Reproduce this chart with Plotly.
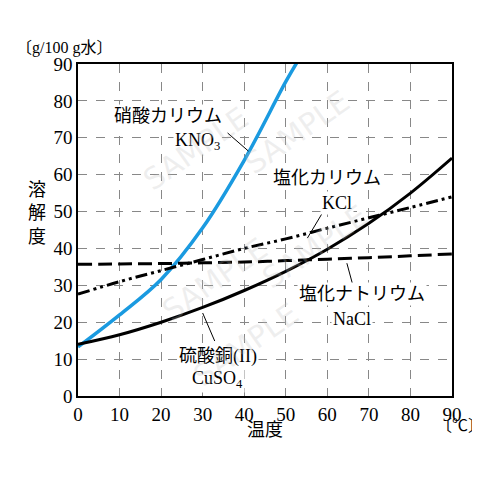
import plotly.graph_objects as go

temp = [0, 10, 20, 30, 40, 50, 60, 70, 80, 90]
kno3_t = [0, 10, 20, 30, 40, 50, 53]
kno3 = [13.3, 22.0, 31.6, 45.6, 63.9, 85.2, 91.0]
kcl = [27.6, 31.0, 34.0, 37.0, 40.0, 42.6, 45.5, 48.3, 51.1, 54.0]
nacl = [35.7, 35.8, 35.9, 36.1, 36.3, 36.7, 37.1, 37.5, 38.0, 38.5]
cuso4 = [14.0, 16.6, 20.0, 24.0, 28.6, 33.8, 39.8, 46.8, 55.0, 64.5]

FONT = "Liberation Serif, Noto Sans CJK JP"

fig = go.Figure()
fig.add_trace(go.Scatter(x=kno3_t, y=kno3, mode="lines", line=dict(color="#1a9ae0", width=3.5, shape="spline")))
fig.add_trace(go.Scatter(x=temp, y=kcl, mode="lines", line=dict(color="black", width=3, dash="12px,4px,3px,4px,3px,4px", shape="spline")))
fig.add_trace(go.Scatter(x=temp, y=nacl, mode="lines", line=dict(color="black", width=3, dash="14px,6px", shape="spline")))
fig.add_trace(go.Scatter(x=temp, y=cuso4, mode="lines", line=dict(color="black", width=3, shape="spline")))

labels = [
    (21.6, 76, "硝酸カリウム"), (28.8, 69, "KNO<sub>3</sub>"),
    (60, 59, "塩化カリウム"), (62.4, 52.3, "KCl"),
    (68.3, 27.6, "塩化ナトリウム"), (66, 21, "NaCl"),
    (33.6, 10.8, "硫酸銅(II)"), (33.6, 4.6, "CuSO<sub>4</sub>"),
]
for x, y, t in labels:
    fig.add_annotation(x=x, y=y, text=t, showarrow=False, bgcolor="white", font=dict(size=18, family=FONT, color="black"))

leaders = [(36, 71.3, 41, 66.4), (58.8, 49.6, 55.2, 42.8), (64.7, 36, 66, 30.6), (30, 22.5, 32.9, 14.9)]
for x0, y0, x1, y1 in leaders:
    fig.add_shape(type="line", x0=x0, y0=y0, x1=x1, y1=y1, line=dict(color="black", width=1))

fig.add_annotation(xref="paper", yref="paper", x=-0.17, y=1.08, text="〔g/100 g水〕", showarrow=False, xanchor="left", font=dict(size=16, family=FONT, color="black"))
fig.add_annotation(xref="paper", yref="paper", x=-0.14, y=0.55, text="溶<br>解<br>度", showarrow=False, font=dict(size=18, family=FONT, color="black"))
fig.add_annotation(xref="paper", yref="paper", x=0.5, y=-0.14, text="温度", showarrow=False, font=dict(size=18, family=FONT, color="black"))
fig.add_annotation(xref="paper", yref="paper", x=1.09, y=-0.12, text="〔℃〕", showarrow=False, xanchor="right", font=dict(size=16, family=FONT, color="black"))

for x, y in [(0.15, 0.9), (0.75, 0.95), (0.2, 0.35), (0.8, 0.45), (0.45, 0.0)]:
    fig.add_annotation(xref="paper", yref="paper", x=x, y=y, text="SAMPLE", showarrow=False, textangle=-35,
                       font=dict(size=30, family="DejaVu Sans", color="rgba(190,190,190,0.25)"))

axis = dict(range=[0, 90], dtick=10, showgrid=True, gridcolor="#888", griddash="dash", gridwidth=1,
            showline=True, linecolor="black", linewidth=1.5, mirror=True, zeroline=False, ticks="",
            tickfont=dict(size=19, family=FONT, color="black"))
fig.update_layout(width=480, height=480, showlegend=False, plot_bgcolor="white", paper_bgcolor="white",
                  margin=dict(l=70, r=36, t=56, b=92), xaxis=axis, yaxis=axis)
fig.write_html("out.html")
